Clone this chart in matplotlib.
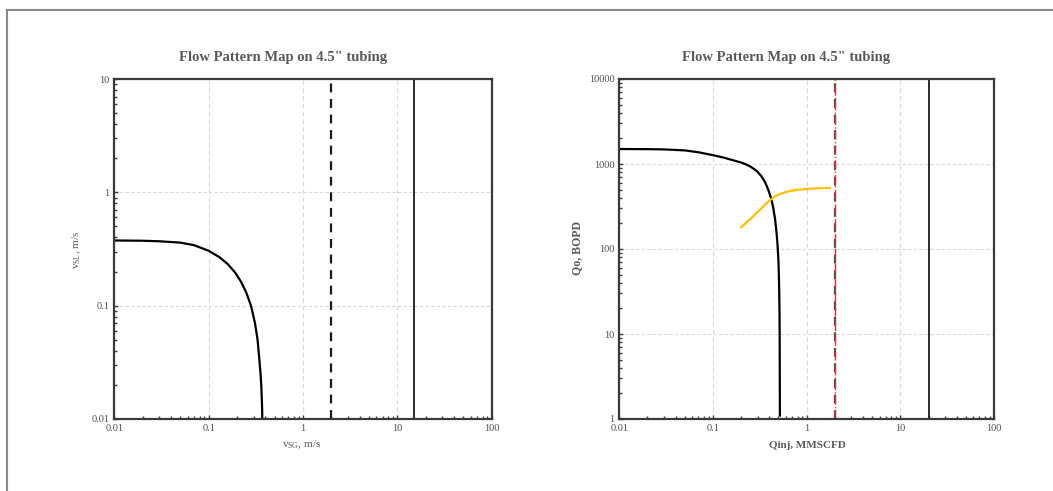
import matplotlib.pyplot as plt
import numpy as np
from matplotlib.lines import Line2D
from matplotlib.ticker import LogLocator, FixedLocator, FixedFormatter, NullFormatter

plt.rcParams['font.family'] = ['Liberation Serif', 'DejaVu Serif']
plt.rcParams['mathtext.fontset'] = 'custom'
plt.rcParams['mathtext.rm'] = 'Liberation Serif'

# left chart: superficial velocity map
vsg_curve = [0.01, 0.02, 0.03, 0.05, 0.07, 0.1, 0.13, 0.16, 0.19, 0.22, 0.25, 0.281,
             0.31, 0.33, 0.344, 0.355, 0.362, 0.366, 0.369, 0.37]
vsl_curve = [0.376, 0.374, 0.37, 0.36, 0.342, 0.305, 0.268, 0.232, 0.197, 0.163, 0.131, 0.1,
             0.07, 0.05, 0.034, 0.025, 0.019, 0.015, 0.012, 0.01]
vsg_dashed = 2.0
vsg_solid = 15.0

# right chart: oil rate vs injection gas
qinj_curve = [0.01, 0.02, 0.03, 0.05, 0.07, 0.1, 0.13, 0.16, 0.2, 0.22, 0.25, 0.28, 0.3, 0.33,
              0.36, 0.39, 0.42, 0.44, 0.46, 0.48, 0.49, 0.5, 0.505, 0.51, 0.513, 0.515,
              0.516, 0.517, 0.518]
qo_curve = [1500, 1495, 1485, 1445, 1375, 1270, 1190, 1115, 1040, 1000, 935, 860, 805, 715,
            610, 495, 385, 305, 225, 145, 108, 72, 50, 30, 18, 10, 5, 2.5, 1.1]
qinj_perf = [0.2, 0.25, 0.3, 0.35, 0.4, 0.45, 0.5, 0.6, 0.7, 0.8, 1.0, 1.2, 1.5, 1.77]
qo_perf = [180, 225, 272, 322, 370, 410, 437, 468, 486, 497, 508, 515, 520, 521]
qinj_dashed = 2.0
qinj_solid = 20.0

txt = '#595959'
spine = '#3a3a3a'

fig = plt.figure(figsize=(10.53, 4.91), dpi=100)
fig.add_artist(Line2D([6.5 / 1053, 1], [1 - 10 / 491] * 2, color='#8a8a8a', lw=1.5))
fig.add_artist(Line2D([6.5 / 1053] * 2, [0, 1 - 10 / 491], color='#8a8a8a', lw=1.5))

ax1 = fig.add_axes([114.3 / 1053, 1 - 419 / 491, 377.4 / 1053, 340 / 491])
ax2 = fig.add_axes([619.3 / 1053, 1 - 419 / 491, 374.7 / 1053, 340 / 491])


def style(ax, ymin, ymax, yt):
    ax.set_xscale('log')
    ax.set_yscale('log')
    ax.set_xlim(0.01, 100)
    ax.set_ylim(ymin, ymax)
    xt = [0.01, 0.1, 1, 10, 100]
    ax.xaxis.set_major_locator(FixedLocator(xt))
    ax.xaxis.set_major_formatter(FixedFormatter(['0.01', '0.1', '1', '10', '100']))
    ax.yaxis.set_major_locator(FixedLocator(yt))
    ax.yaxis.set_major_formatter(FixedFormatter([('%g' % v) for v in yt]))
    ax.xaxis.set_minor_locator(LogLocator(base=10, subs=np.arange(2, 10)))
    ax.yaxis.set_minor_locator(LogLocator(base=10, subs=np.arange(2, 10)))
    ax.xaxis.set_minor_formatter(NullFormatter())
    ax.yaxis.set_minor_formatter(NullFormatter())
    ax.tick_params(which='both', direction='in', colors=spine, labelcolor='#4d4d4d',
                   labelsize=7.5, top=False, right=False)
    ax.tick_params(which='major', length=3, width=1)
    ax.tick_params(which='minor', length=2, width=1)
    for s in ax.spines.values():
        s.set_color(spine)
        s.set_linewidth(1.6)
    ax.grid(True, which='major', axis='x', color='#d9d9d9', ls=(0, (4, 3)), lw=0.8)
    ax.grid(True, which='major', axis='y', color='#d9d9d9', ls=(0, (3, 2)), lw=0.8)
    ax.set_axisbelow(True)


style(ax1, 0.01, 10, [0.01, 0.1, 1, 10])
style(ax2, 1, 10000, [1, 10, 100, 1000, 10000])

ax1.plot(vsg_curve, vsl_curve, color='black', lw=1.6)
ax1.axvline(vsg_dashed, color='#1a1a1a', lw=1.6, ls=(0, (4, 3)))
ax1.axvline(vsg_solid, color='#1a1a1a', lw=1.3)

ax2.plot(qinj_curve, qo_curve, color='black', lw=1.6)
ax2.plot(qinj_perf, qo_perf, color='#ffc000', lw=1.6)
ax2.axvline(qinj_dashed, color='#505050', lw=1.6, ls=(0, (4, 3)))
ax2.axvline(qinj_dashed, color='#e03030', lw=1.0, ls='-.')
ax2.axvline(qinj_solid, color='#1a1a1a', lw=1.3)

title = 'Flow Pattern Map on 4.5" tubing'
fig.text(283 / 1053, 1 - 58 / 491, title, ha='center', va='center',
         fontsize=10.5, fontweight='bold', color=txt)
fig.text(786 / 1053, 1 - 58 / 491, title, ha='center', va='center',
         fontsize=10.5, fontweight='bold', color=txt)

fig.text(302 / 1053, 1 - 445 / 491, r'v$_{\mathregular{SG}}$, m/s', ha='center', va='center',
         fontsize=8, color=txt)
fig.text(807 / 1053, 1 - 445 / 491, 'Qinj, MMSCFD', ha='center', va='center',
         fontsize=8, fontweight='bold', color=txt)
fig.text(77 / 1053, 1 - 250 / 491, r'v$_{\mathregular{SL}}$, m/s', ha='center', va='center',
         fontsize=8, color=txt, rotation=90)
fig.text(577 / 1053, 1 - 248 / 491, 'Qo, BOPD', ha='center', va='center',
         fontsize=8.5, fontweight='bold', color=txt, rotation=90)

plt.savefig('out.png', dpi=100)
